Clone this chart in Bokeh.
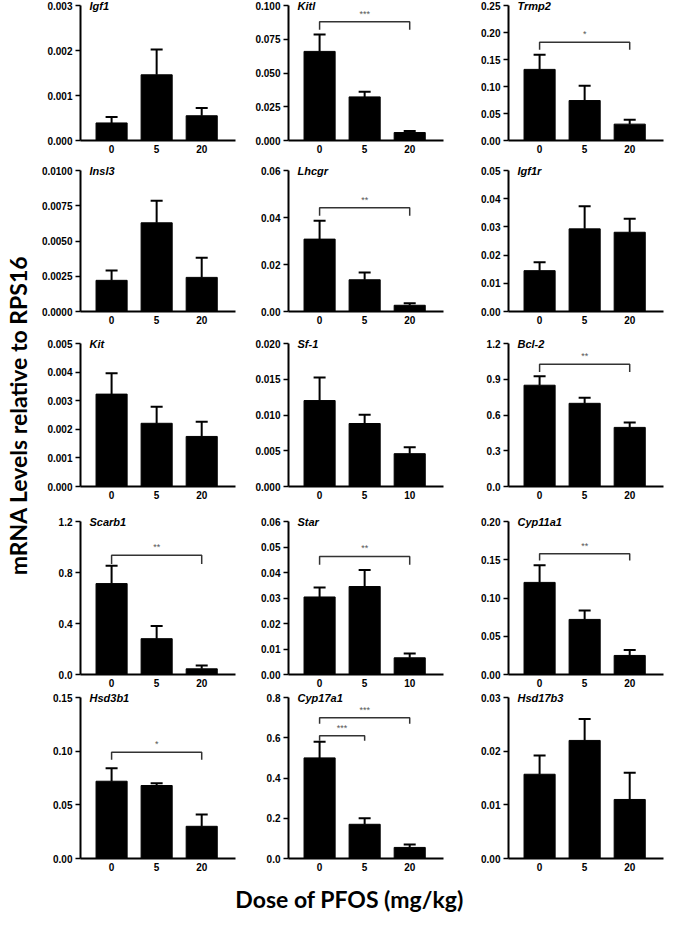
from bokeh.plotting import figure
from bokeh.layouts import row, column
from bokeh.models import Range1d, FixedTicker, Label, Whisker, ColumnDataSource, TeeHead, NumeralTickFormatter
from bokeh.embed import file_html
from bokeh.resources import INLINE
from math import pi

# ---------------- data ----------------
genes = ["Igf1", "Kitl", "Trmp2",
         "Insl3", "Lhcgr", "Igf1r",
         "Kit", "Sf-1", "Bcl-2",
         "Scarb1", "Star", "Cyp11a1",
         "Hsd3b1", "Cyp17a1", "Hsd17b3"]

dose_labels = [["0", "5", "20"], ["0", "5", "20"], ["0", "5", "20"],
               ["0", "5", "20"], ["0", "5", "20"], ["0", "5", "20"],
               ["0", "5", "20"], ["0", "5", "10"], ["0", "5", "20"],
               ["0", "5", "20"], ["0", "5", "10"], ["0", "5", "20"],
               ["0", "5", "20"], ["0", "5", "20"], ["0", "5", "20"]]

means = [[0.00039, 0.00146, 0.00055], [0.066, 0.0323, 0.0059], [0.1317, 0.074, 0.0303],
         [0.00221, 0.00629, 0.00242], [0.0308, 0.0135, 0.00265], [0.01448, 0.0293, 0.0281],
         [0.00323, 0.00221, 0.00175], [0.01202, 0.00881, 0.00459], [0.850, 0.698, 0.496],
         [0.713, 0.281, 0.0446], [0.0304, 0.0345, 0.00655], [0.1204, 0.072, 0.0249],
         [0.072, 0.068, 0.030], [0.50, 0.17, 0.055], [0.0157, 0.022, 0.011]]

errors = [[0.000135, 0.000565, 0.00017], [0.0126, 0.0039, 0.0012], [0.0273, 0.0273, 0.0079],
          [0.0007, 0.00156, 0.0014], [0.0078, 0.0031, 0.00085], [0.00297, 0.008, 0.0048],
          [0.00073, 0.00058, 0.00051], [0.00321, 0.00124, 0.00091], [0.075, 0.047, 0.041],
          [0.139, 0.099, 0.026], [0.0037, 0.0065, 0.0017], [0.0223, 0.0116, 0.0072],
          [0.012, 0.002, 0.011], [0.08, 0.03, 0.015], [0.0035, 0.004, 0.005]]

y_max = [0.003, 0.100, 0.25,
         0.0100, 0.06, 0.05,
         0.005, 0.020, 1.2,
         1.2, 0.06, 0.20,
         0.15, 0.8, 0.03]

y_ticks = [[0, 0.001, 0.002, 0.003], [0, 0.025, 0.05, 0.075, 0.1], [0, 0.05, 0.1, 0.15, 0.2, 0.25],
           [0, 0.0025, 0.005, 0.0075, 0.01], [0, 0.02, 0.04, 0.06], [0, 0.01, 0.02, 0.03, 0.04, 0.05],
           [0, 0.001, 0.002, 0.003, 0.004, 0.005], [0, 0.005, 0.01, 0.015, 0.02], [0, 0.3, 0.6, 0.9, 1.2],
           [0, 0.4, 0.8, 1.2], [0, 0.01, 0.02, 0.03, 0.04, 0.05, 0.06], [0, 0.05, 0.1, 0.15, 0.2],
           [0, 0.05, 0.1, 0.15], [0, 0.2, 0.4, 0.6, 0.8], [0, 0.01, 0.02, 0.03]]

tick_formats = ["0.000", "0.000", "0.00",
                "0.0000", "0.00", "0.00",
                "0.000", "0.000", "0.0",
                "0.0", "0.00", "0.00",
                "0.00", "0.0", "0.00"]

# significance brackets: gene -> list of (from bar, to bar, line level, drop level, stars)
brackets = {
    "Kitl": [(0, 2, 0.0879, 0.082, "***")],
    "Trmp2": [(0, 2, 0.182, 0.168, "*")],
    "Lhcgr": [(0, 2, 0.0442, 0.0407, "**")],
    "Bcl-2": [(0, 2, 1.025, 0.961, "**")],
    "Scarb1": [(0, 2, 0.936, 0.866, "**")],
    "Star": [(0, 2, 0.0463, 0.043, "**")],
    "Cyp11a1": [(0, 2, 0.1577, 0.149, "**")],
    "Hsd3b1": [(0, 2, 0.099, 0.092, "*")],
    "Cyp17a1": [(0, 1, 0.61, 0.585, "***"), (0, 2, 0.70, 0.67, "***")],
}

y_title = "mRNA Levels relative to RPS16"
x_title = "Dose of PFOS (mg/kg)"

# ---------------- layout constants ----------------
FRAME_W = 155
frame_h = [135, 141, 143, 153, 161]
border_top = [5, 14, 16, 19, 7]
top_pad = [5, 7, 7, 7, 7]          # extra frame room above the axis top for the gene title
border_bottom = [16, 16, 16, 16, 20]
border_left = [46, 49, 55]
border_right = [4, 10, 4]
X_LO, X_HI = 0.31, 3.75
BAR_W = 0.69
FONT = "Liberation Sans"


def make_panel(k, r, c):
    xs = [1, 2, 3]
    pad = top_pad[r]
    ytop = y_max[k] * (1 + pad / frame_h[r])
    p = figure(frame_width=FRAME_W, frame_height=frame_h[r] + pad,
               min_border_left=border_left[c], min_border_right=border_right[c],
               min_border_top=border_top[r] - pad, min_border_bottom=border_bottom[r],
               x_range=Range1d(X_LO, X_HI), y_range=Range1d(0, ytop),
               output_backend="svg", toolbar_location=None,
               background_fill_color="white", border_fill_color="white")
    p.outline_line_color = None
    p.grid.visible = False

    src = ColumnDataSource(dict(x=xs, mean=means[k],
                                top=[m + e for m, e in zip(means[k], errors[k])]))
    p.vbar(x="x", top="mean", width=BAR_W, source=src, fill_color="black", line_color="black")
    w = Whisker(source=src, base="x", upper="top", lower="mean", dimension="height",
                line_width=2, line_color="black",
                upper_head=TeeHead(size=12, line_width=2, line_color="black"), lower_head=None)
    p.add_layout(w)

    for (a, b, yl, yd, s) in brackets.get(genes[k], []):
        xa, xb = xs[a], xs[b]
        p.line([xa, xa, xb, xb], [yd, yl, yl, yd], line_color="#333333", line_width=1.5)
        p.add_layout(Label(x=(xa + xb) / 2, y=yl, y_offset=3, text=s, text_align="center",
                           text_baseline="bottom", text_font=FONT, text_font_size="9px",
                           text_color="#555555"))

    p.add_layout(Label(x=X_LO, y=y_max[k], x_offset=9, text=genes[k], text_font=FONT,
                       text_font_style="bold italic", text_font_size="11px",
                       text_baseline="middle", text_align="left", text_color="black"))

    for ax in (p.xaxis[0], p.yaxis[0]):
        ax.axis_line_width = 2
        ax.axis_line_color = "black"
        ax.major_label_text_font = FONT
        ax.major_label_text_font_style = "bold"
        ax.major_label_text_font_size = "10px"
        ax.major_label_text_color = "black"
        ax.minor_tick_line_color = None
    p.xaxis.ticker = FixedTicker(ticks=xs)
    p.xaxis.major_label_overrides = {1: dose_labels[k][0], 2: dose_labels[k][1], 3: dose_labels[k][2]}
    p.xaxis.major_tick_line_color = None
    p.xaxis.major_tick_out = 0
    p.xaxis.major_label_standoff = 4
    p.yaxis.ticker = FixedTicker(ticks=y_ticks[k])
    p.yaxis.bounds = (0, y_max[k])
    p.yaxis.formatter = NumeralTickFormatter(format=tick_formats[k])
    p.yaxis.major_tick_line_width = 1.5
    p.yaxis.major_tick_line_color = "black"
    p.yaxis.major_tick_out = 5
    p.yaxis.major_tick_in = 0
    p.yaxis.major_label_standoff = 3
    return p


rows = []
for r in range(5):
    rows.append(row(*[make_panel(r * 3 + c, r, c) for c in range(3)]))
grid = column(*rows)

grid_h = sum(frame_h) + sum(border_top) + sum(border_bottom)
grid_w = sum(border_left) + sum(border_right) + 3 * FRAME_W
YL_W = 34

yl = figure(width=YL_W, height=grid_h, x_range=Range1d(0, YL_W), y_range=Range1d(0, grid_h),
            min_border=0, output_backend="svg", toolbar_location=None)
yl.axis.visible = False
yl.grid.visible = False
yl.outline_line_color = None
yl.add_layout(Label(x=17, y=grid_h - 415, text=y_title, angle=pi / 2, text_align="center",
                    text_baseline="middle", text_font="Lato", text_font_style="bold",
                    text_font_size="23px", text_color="black"))

XL_H = 36
total_w = YL_W + grid_w
xl = figure(width=total_w, height=XL_H, x_range=Range1d(0, total_w), y_range=Range1d(0, XL_H),
            min_border=0, output_backend="svg", toolbar_location=None)
xl.axis.visible = False
xl.grid.visible = False
xl.outline_line_color = None
xl.add_layout(Label(x=349, y=16, text=x_title, text_align="center", text_baseline="middle",
                    text_font="Lato", text_font_style="bold", text_font_size="23px",
                    text_color="black"))

page = column(row(yl, grid), xl)
open("out.html", "w").write(file_html(page, INLINE))
